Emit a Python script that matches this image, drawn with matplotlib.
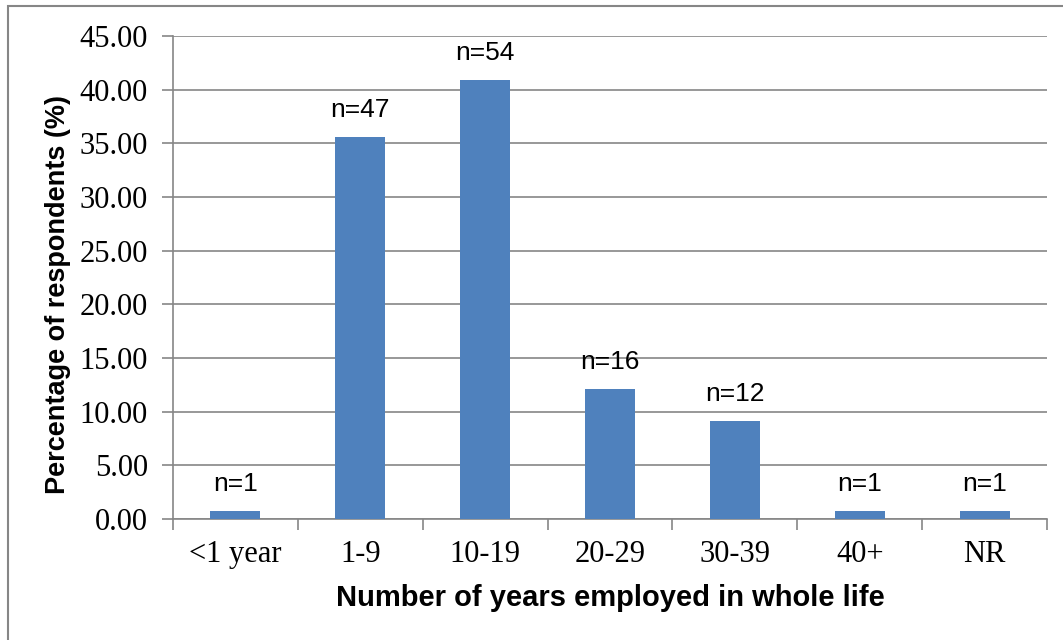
import matplotlib.pyplot as plt
from matplotlib.patches import Rectangle
import numpy as np

categories = ["<1 year", "1-9", "10-19", "20-29", "30-39", "40+", "NR"]
counts = [1, 47, 54, 16, 12, 1, 1]
total = sum(counts)
percentages = [100.0 * c / total for c in counts]
yticks = [0, 5, 10, 15, 20, 25, 30, 35, 40, 45]

fig = plt.figure(figsize=(10.63, 6.4), dpi=100)
W, H = 1063, 640
ax = fig.add_axes([173 / W, 1 - 519 / H, (1047 - 173) / W, (519 - 36) / H])

# outer chart frame (left and top edges only visible)
fig.patches.append(Rectangle((8 / W, -0.1), 1.2, 1 - 6 / H + 0.1,
                             transform=fig.transFigure, fill=False,
                             edgecolor="#868686", linewidth=1.5))

x = np.arange(len(categories))
ax.bar(x, percentages, width=0.4, color="#4F81BD", zorder=3)
for xi, p, c in zip(x, percentages, counts):
    ax.text(xi, p + 1.4, f"n={c}", ha="center", va="bottom",
            fontsize=19, family="Liberation Sans")

ax.set_xlim(-0.5, len(categories) - 0.5)
ax.set_ylim(0, 45)
ax.set_yticks(yticks)
ax.set_yticklabels([f"{v:.2f}" for v in yticks], family="Liberation Serif", fontsize=22)
ax.yaxis.grid(True, color="#868686", linewidth=1.2, zorder=0)
ax.set_axisbelow(True)

ax.set_xticks(x)
ax.set_xticklabels(categories, family="Liberation Serif", fontsize=22)
ax.tick_params(axis="x", length=0, pad=15)
ax.set_xticks(np.arange(len(categories) + 1) - 0.5, minor=True)
ax.tick_params(axis="x", which="minor", length=8, color="#868686", width=1.2)
ax.tick_params(axis="y", length=8, color="#868686", width=1.2, pad=10)

for side in ["top", "right"]:
    ax.spines[side].set_visible(False)
for side in ["left", "bottom"]:
    ax.spines[side].set_color("#868686")
    ax.spines[side].set_linewidth(1.2)

ax.set_xlabel("Number of years employed in whole life", fontsize=21,
              fontweight="bold", family="Liberation Sans", labelpad=11)
ax.set_ylabel("Percentage of respondents (%)", fontsize=19.5,
              fontweight="bold", family="Liberation Sans")
ax.yaxis.set_label_coords(-0.117, 0.464)

fig.savefig("out.png", dpi=100)
